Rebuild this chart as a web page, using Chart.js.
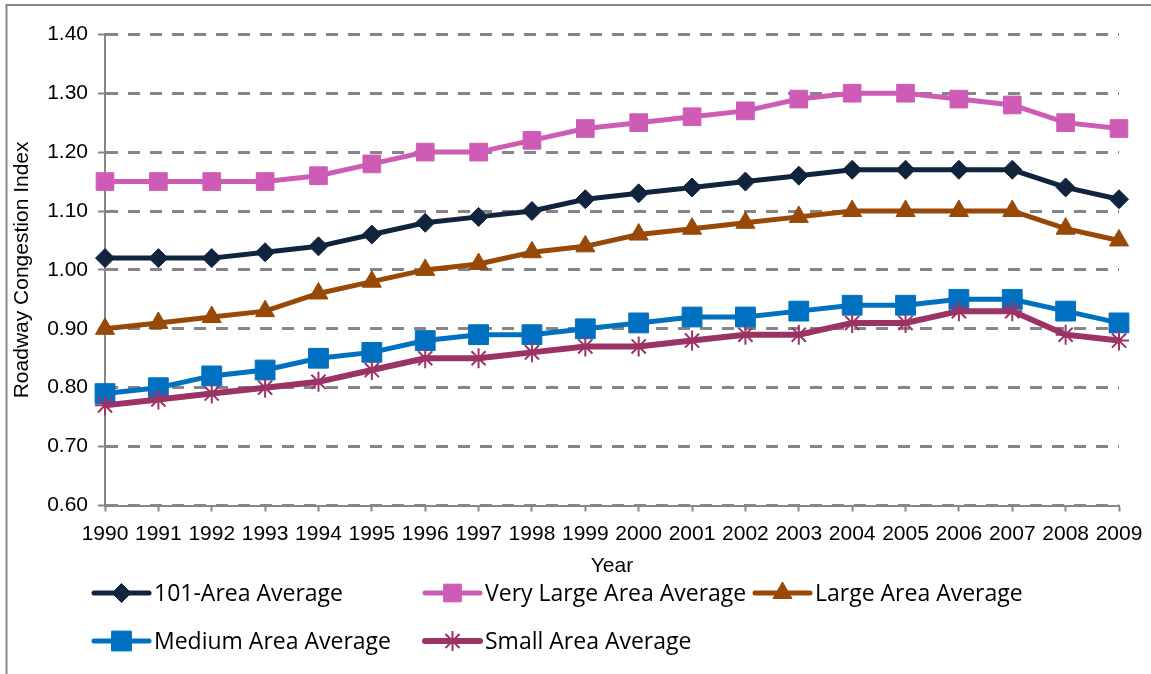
<!DOCTYPE html>
<html><head><meta charset="utf-8">
<script src="https://cdn.jsdelivr.net/npm/chart.js@4.4.1/dist/chart.umd.min.js"></script>
<style>html,body{margin:0;padding:0;background:#fff;}canvas{display:block;}</style>
</head><body>
<canvas id="c" width="1151" height="674"></canvas>
<script>
// ---- data ----
const years = ['1990','1991','1992','1993','1994','1995','1996','1997','1998','1999','2000','2001','2002','2003','2004','2005','2006','2007','2008','2009'];
const area101   = [1.02,1.02,1.02,1.03,1.04,1.06,1.08,1.09,1.10,1.12,1.13,1.14,1.15,1.16,1.17,1.17,1.17,1.17,1.14,1.12];
const veryLarge = [1.15,1.15,1.15,1.15,1.16,1.18,1.20,1.20,1.22,1.24,1.25,1.26,1.27,1.29,1.30,1.30,1.29,1.28,1.25,1.24];
const large     = [0.90,0.91,0.92,0.93,0.96,0.98,1.00,1.01,1.03,1.04,1.06,1.07,1.08,1.09,1.10,1.10,1.10,1.10,1.07,1.05];
const medium    = [0.79,0.80,0.82,0.83,0.85,0.86,0.88,0.89,0.89,0.90,0.91,0.92,0.92,0.93,0.94,0.94,0.95,0.95,0.93,0.91];
const small     = [0.77,0.78,0.79,0.80,0.81,0.83,0.85,0.85,0.86,0.87,0.87,0.88,0.89,0.89,0.91,0.91,0.93,0.93,0.89,0.88];
const seriesNames = ['101-Area Average','Very Large Area Average','Large Area Average','Medium Area Average','Small Area Average'];
const yMin = 0.6, yMax = 1.4, yStep = 0.1;
const xTitle = 'Year';
const yTitle = 'Roadway Congestion Index';

// ---- styles ----
const seriesValues = [area101, veryLarge, large, medium, small];
const colors = ['#10243E','#CE5CB6','#984807','#0070C0','#9B3365'];
const styles = ['rectRot','rect','triangle','rect','star'];
const radii = [9.5, 12.5, 11, 14, 10];
const lineW = [5, 5, 5, 5, 6];
const GRAY = '#868686';
const TICK_FONT = {family: '"Liberation Sans", Arial, sans-serif', size: 21};

function drawMarker(ctx, style, r, x, y, color, bw) {
  ctx.save();
  ctx.fillStyle = color; ctx.strokeStyle = color; ctx.lineWidth = bw;
  ctx.beginPath();
  if (style === 'rect') {
    const s = Math.SQRT1_2 * r; ctx.rect(x - s, y - s, 2 * s, 2 * s); ctx.fill(); ctx.stroke();
  } else if (style === 'rectRot') {
    ctx.moveTo(x - r, y); ctx.lineTo(x, y - r); ctx.lineTo(x + r, y); ctx.lineTo(x, y + r); ctx.closePath(); ctx.fill(); ctx.stroke();
  } else if (style === 'triangle') {
    let a = 0;
    ctx.moveTo(x + Math.sin(a) * r, y - Math.cos(a) * r);
    a += 2 * Math.PI / 3; ctx.lineTo(x + Math.sin(a) * r, y - Math.cos(a) * r);
    a += 2 * Math.PI / 3; ctx.lineTo(x + Math.sin(a) * r, y - Math.cos(a) * r);
    ctx.closePath(); ctx.fill(); ctx.stroke();
  } else if (style === 'star') {
    for (let k = 0; k < 4; k++) {
      const a = k * Math.PI / 4;
      ctx.moveTo(x - Math.cos(a) * r, y - Math.sin(a) * r);
      ctx.lineTo(x + Math.cos(a) * r, y + Math.sin(a) * r);
    }
    ctx.stroke();
  }
  ctx.restore();
}

const framePlugin = {
  id: 'frame',
  beforeDraw(chart) {
    const ctx = chart.ctx;
    ctx.save();
    ctx.fillStyle = '#fff'; ctx.fillRect(0, 0, chart.width, chart.height);
    ctx.strokeStyle = GRAY; ctx.lineWidth = 2;
    ctx.strokeRect(6.5, 5, 1400, 1000);
    ctx.restore();
  }
};

const legendPlugin = {
  id: 'gridLegend',
  afterDraw(chart) {
    const ctx = chart.ctx;
    const cols = [94, 425, 755];
    const rows = [593, 641];
    chart.data.datasets.forEach((ds, i) => {
      const x = cols[i % 3], y = rows[Math.floor(i / 3)];
      ctx.save();
      ctx.strokeStyle = ds.borderColor; ctx.lineWidth = ds.borderWidth; ctx.lineCap = 'round';
      ctx.beginPath(); ctx.moveTo(x, y); ctx.lineTo(x + 55, y); ctx.stroke();
      ctx.restore();
      drawMarker(ctx, ds.pointStyle, ds.pointRadius, x + 27.5, y, ds.borderColor, ds.pointBorderWidth);
      ctx.save();
      ctx.fillStyle = '#000';
      ctx.font = '23px "Open Sans", sans-serif';
      ctx.textBaseline = 'alphabetic'; ctx.textAlign = 'left';
      ctx.fillText(ds.label, x + 60, y + 8);
      ctx.restore();
    });
  }
};

const datasets = seriesValues.map((vals, i) => ({
  label: seriesNames[i],
  data: vals,
  borderColor: colors[i],
  backgroundColor: colors[i],
  pointBackgroundColor: colors[i],
  pointBorderColor: colors[i],
  borderWidth: lineW[i],
  pointStyle: styles[i],
  pointRadius: radii[i],
  pointHoverRadius: radii[i],
  pointBorderWidth: styles[i] === 'star' ? 2 : 1,
  tension: 0,
  clip: false,
  order: seriesValues.length - i
}));

new Chart(document.getElementById('c'), {
  type: 'line',
  data: { labels: years, datasets },
  options: {
    responsive: false,
    devicePixelRatio: 1,
    animation: false,
    events: [],
    layout: { padding: { left: 9.4, top: 34.3, right: 32, bottom: 95.4 } },
    plugins: { legend: { display: false }, tooltip: { enabled: false }, title: { display: false } },
    scales: {
      x: {
        type: 'category',
        offset: false,
        grid: { display: true, drawOnChartArea: false, drawTicks: true, tickLength: 6, tickColor: GRAY, tickWidth: 2, offset: false },
        border: { display: true, color: GRAY, width: 2 },
        ticks: { autoSkip: false, maxRotation: 0, minRotation: 0, color: '#000', font: TICK_FONT, padding: 10 },
        title: { display: true, text: xTitle, color: '#000', font: TICK_FONT, padding: 0 },
        afterFit(s) { s.height = 73.1; s.paddingLeft = 0; s.paddingRight = 0; }
      },
      y: {
        min: yMin, max: yMax,
        grid: { display: true, color: GRAY, lineWidth: 3, tickLength: 7, tickColor: GRAY, tickWidth: 2 },
        border: { display: true, color: GRAY, width: 2, dash: [12, 10] },
        ticks: { stepSize: yStep, color: '#000', font: TICK_FONT, padding: 10, callback: v => Number(v).toFixed(2) },
        title: { display: true, text: yTitle, color: '#000', font: TICK_FONT, padding: 0 },
        afterFit(s) { s.width = 95.6; s.paddingTop = 0; s.paddingBottom = 0; }
      }
    }
  },
  plugins: [framePlugin, legendPlugin]
});
</script>
</body></html>
